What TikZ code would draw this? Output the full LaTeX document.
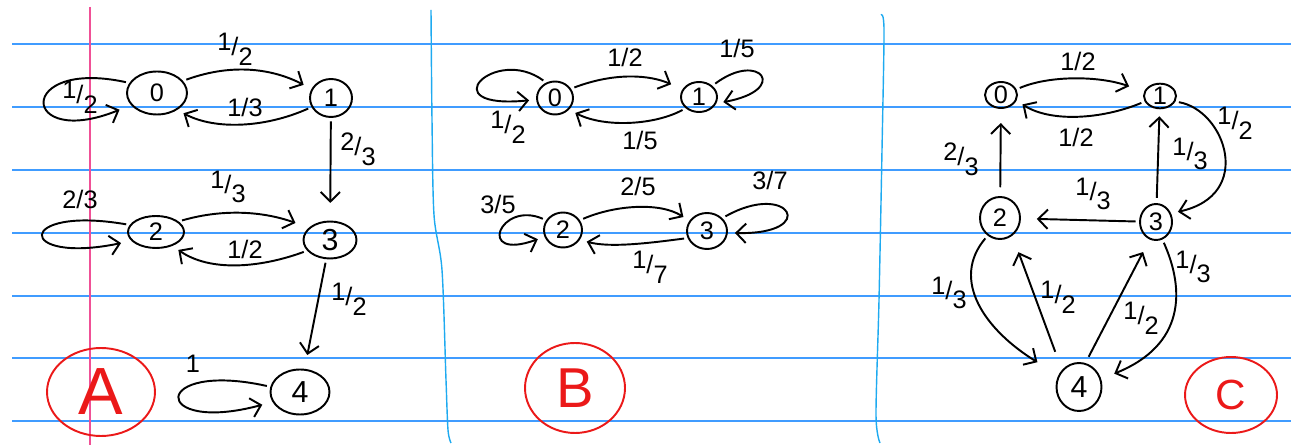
\documentclass[tikz,border=0pt]{standalone}
\usepackage{fontspec}
\setmainfont{Liberation Sans}
\usetikzlibrary{shapes.geometric,arrows.meta}
\definecolor{ruleblue}{RGB}{64,156,255}
\definecolor{sideblue}{RGB}{30,170,240}
\definecolor{marginpink}{RGB}{240,80,150}
\definecolor{inkred}{RGB}{235,25,25}
\newcommand{\slantfrac}[2]{#1\raisebox{-0.4ex}{/}\raisebox{-1.1ex}{#2}}

\begin{document}
\begin{tikzpicture}[x=0.02cm, y=-0.02cm]
\tikzstyle{state} = [ellipse, draw, line width=1.1pt, inner sep=0pt, font=\Large]
\tikzstyle{ring} = [ellipse, draw=inkred, text=inkred, line width=1.1pt, inner sep=0pt]
\tikzstyle{lbl} = [font=\Large, inner sep=1pt]
\tikzstyle{arrow} = [line width=1.1pt, ->, >={Straight Barb[length=5.5pt,width=11pt]}, shorten <=2pt, shorten >=4pt]

\useasboundingbox (0,0) rectangle (1291,445);

% ruled paper
\foreach \y in {44,107,170,233,296,358,421}
  \draw[ruleblue, line width=0.7pt] (12,\y) -- (1291,\y);
\draw[marginpink, line width=0.9pt] (90,7) -- (90,445);
\draw[sideblue, line width=0.8pt] plot[smooth] coordinates {(431,10) (432,120) (434,215) (442,270) (446,380) (448,430) (451,443)};
\draw[sideblue, line width=0.8pt] plot[smooth] coordinates {(881,15) (884,30) (882,150) (879,300) (876,415) (880,443)};

% A
\node (A0) [state, minimum width=1.2cm, minimum height=0.86cm] at (157,93) {0};
\node (A1) [state, minimum width=0.84cm, minimum height=0.76cm] at (331,98) {1};
\node (A2) [state, minimum width=1.12cm, minimum height=0.64cm] at (156,232) {2};
\node (A3) [state, minimum width=1.06cm, minimum height=0.74cm, font=\LARGE] at (330,240) {3};
\node (A4) [state, minimum width=1.18cm, minimum height=0.9cm, font=\LARGE] at (300,392) {4};
\node (ringA) [ring, minimum width=2.16cm, minimum height=1.76cm, font=\fontsize{38}{40}\selectfont] at (101,392) {A};

\draw [arrow, shorten >=7pt] (A0.160) .. controls (15,58) and (20,150) .. (A0.205);
\draw [arrow, shorten >=5pt] (A0.25) .. controls (235,62) and (275,70) .. (A1.155);
\draw [arrow] (A1.205) .. controls (265,128) and (215,130) .. (A0.-40);
\draw [arrow, shorten >=10pt] (A1) -- (A3);
\draw [arrow, shorten >=6pt] (A2.165) .. controls (15,205) and (15,265) .. (A2.200);
\draw [arrow, shorten >=8pt] (A2.25) .. controls (225,208) and (265,212) .. (A3.150);
\draw [arrow] (A3.205) .. controls (260,268) and (210,272) .. (A2.-40);
\draw [arrow, shorten >=8pt] (A3) -- (A4);
\draw [arrow, shorten >=6pt] (A4.170) .. controls (150,360) and (150,435) .. (A4.200);

\node (qA00) [lbl] at (80,97) {\slantfrac{1}{2}};
\node (qA01) [lbl] at (235,49) {\slantfrac{1}{2}};
\node (qA10) [lbl] at (245,107) {1/3};
\node (qA13) [lbl] at (358,149) {\slantfrac{2}{3}};
\node (qA22) [lbl] at (80,199) {2/3};
\node (qA23) [lbl] at (228,187) {\slantfrac{1}{3}};
\node (qA32) [lbl] at (245,249) {1/2};
\node (qA34) [lbl] at (349,299) {\slantfrac{1}{2}};
\node (qA44) [lbl] at (193,364) {1};

% B
\node (B0) [state, minimum width=0.72cm, minimum height=0.66cm] at (555,98) {0};
\node (B1) [state, minimum width=0.72cm, minimum height=0.6cm] at (699,97) {1};
\node (B2) [state, minimum width=0.76cm, minimum height=0.7cm] at (563,230) {2};
\node (B3) [state, minimum width=0.8cm, minimum height=0.72cm] at (707,231) {3};
\node (ringB) [ring, minimum width=2cm, minimum height=1.8cm, font=\fontsize{32}{34}\selectfont] at (575,388) {B};

\draw [arrow] (B0.120) .. controls (495,45) and (430,110) .. (B0.185);
\draw [arrow, shorten >=7pt] (B0.30) .. controls (615,72) and (650,75) .. (B1.155);
\draw [arrow] (B1.220) .. controls (655,125) and (605,128) .. (B0.-40);
\draw [arrow] (B1.40) .. controls (760,50) and (790,90) .. (B1.-20);
\draw [arrow] (B2.150) .. controls (500,200) and (475,262) .. (B2.200);
\draw [arrow] (B2.30) .. controls (615,205) and (660,202) .. (B3.150);
\draw [arrow] (B3.200) .. controls (650,243) and (610,248) .. (B2.-30);
\draw [arrow] (B3.40) .. controls (790,180) and (820,235) .. (B3.-5);

\node (qB00) [lbl] at (508,127) {\slantfrac{1}{2}};
\node (qB01) [lbl] at (625,57) {1/2};
\node (qB10) [lbl] at (640,140) {1/5};
\node (qB11) [lbl] at (737,48) {1/5};
\node (qB22) [lbl] at (498,204) {3/5};
\node (qB23) [lbl] at (638,186) {2/5};
\node (qB32) [lbl] at (650,267) {\slantfrac{1}{7}};
\node (qB33) [lbl] at (770,180) {3/7};

% C
\node (C0) [state, minimum width=0.64cm, minimum height=0.52cm] at (1001,95) {0};
\node (C1) [state, minimum width=0.64cm, minimum height=0.44cm] at (1160,96) {1};
\node (C2) [state, minimum width=0.8cm, minimum height=0.84cm] at (1000,218) {2};
\node (C3) [state, minimum width=0.64cm, minimum height=0.72cm] at (1156,222) {3};
\node (C4) [state, minimum width=0.9cm, minimum height=0.96cm, font=\LARGE] at (1079,387) {4};
\node (ringC) [ring, minimum width=1.84cm, minimum height=1.52cm, font=\fontsize{24}{26}\selectfont] at (1231,395) {C};

\draw [arrow, shorten >=9pt] (C0.20) .. controls (1050,75) and (1100,76) .. (C1.165);
\draw [arrow] (C1.200) .. controls (1100,120) and (1050,122) .. (C0.-20);
\draw [arrow, shorten <=5pt, shorten >=8pt] (C2) -- (C0);
\draw [arrow, shorten <=3pt, shorten >=4pt] (C3) -- (C1);
\draw [arrow] (C1.-20) .. controls (1225,110) and (1255,195) .. (C3.30);
\draw [arrow, shorten >=9pt] (C3) -- (C2);
\draw [arrow, shorten >=14pt] (C2.235) .. controls (950,280) and (985,330) .. (C4.150);
\draw [arrow, shorten <=11pt, shorten >=10pt] (C4.135) -- (C2.-55);
\draw [arrow, shorten <=4pt, shorten >=8pt] (C4.75) -- (C3.-110);
\draw [arrow, shorten >=8pt] (C3.-70) .. controls (1185,290) and (1185,345) .. (C4.20);

\node (qC01) [lbl] at (1078,61) {1/2};
\node (qC10) [lbl] at (1076,137) {1/2};
\node (qC20) [lbl] at (961,159) {\slantfrac{2}{3}};
\node (qC31) [lbl] at (1190,154) {\slantfrac{1}{3}};
\node (qC13) [lbl] at (1235,123) {\slantfrac{1}{2}};
\node (qC32) [lbl] at (1093,194) {\slantfrac{1}{3}};
\node (qC24) [lbl] at (949,293) {\slantfrac{1}{3}};
\node (qC42) [lbl] at (1058,297) {\slantfrac{1}{2}};
\node (qC43) [lbl] at (1141,318) {\slantfrac{1}{2}};
\node (qC34) [lbl] at (1193,267) {\slantfrac{1}{3}};
\end{tikzpicture}
\end{document}
